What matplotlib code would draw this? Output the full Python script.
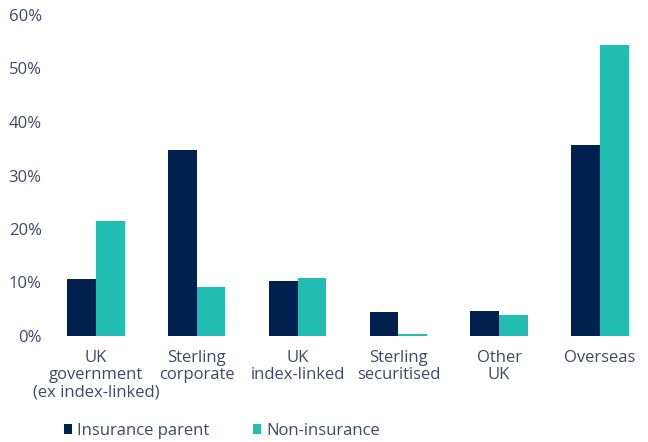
import matplotlib.pyplot as plt
import numpy as np

categories = ['UK\ngovernment\n(ex index-linked)', 'Sterling\ncorporate', 'UK\nindex-linked',
              'Sterling\nsecuritised', 'Other\nUK', 'Overseas']
insurance_parent = [10.6, 34.8, 10.3, 4.5, 4.7, 35.7]
non_insurance = [21.5, 9.2, 10.8, 0.4, 3.9, 54.4]
y_ticks = [0, 10, 20, 30, 40, 50, 60]

navy = '#002050'
teal = '#21bcb2'
text_col = '#3b4a6b'

plt.rcParams['font.family'] = ['Open Sans', 'DejaVu Sans']

fig = plt.figure(figsize=(6.48, 4.42), dpi=100)
# axes placed by pixel position of the reference
W, H = 648, 442
left_px, right_px, top_px, bot_px = 50, 640, 15, 336
ax = fig.add_axes([left_px / W, 1 - bot_px / H, (right_px - left_px) / W, (bot_px - top_px) / H])

x = np.arange(len(categories))
w = 0.285
ax.bar(x - w / 2, insurance_parent, w, color=navy, label='Insurance parent')
ax.bar(x + w / 2, non_insurance, w, color=teal, label='Non-insurance')

ax.set_xlim(-0.456, 5.397)
ax.set_ylim(0, 60)
ax.set_yticks(y_ticks)
ax.set_yticklabels([f'{t}%' for t in y_ticks])
ax.set_xticks(x)
ax.set_xticklabels(categories, linespacing=1.1)
ax.tick_params(axis='both', length=0, labelsize=12, colors=text_col)
ax.tick_params(axis='x', pad=10)
ax.tick_params(axis='y', pad=6)
for s in ax.spines.values():
    s.set_visible(False)

fig.legend(loc='center left', bbox_to_anchor=(49 / W, 1 - 431 / H), ncol=2, frameon=False,
           handlelength=0.5, handleheight=0.5, handletextpad=0.3, columnspacing=2.6,
           fontsize=12, labelcolor=text_col)

fig.savefig('out.png', dpi=100)
